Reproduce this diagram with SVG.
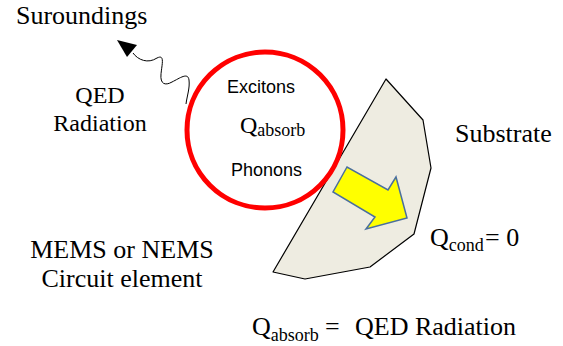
<svg xmlns="http://www.w3.org/2000/svg" width="563" height="346" viewBox="0 0 563 346">
<style>
.serif{font-family:"Liberation Serif","Times New Roman",serif;fill:#000}
.sans{font-family:"Liberation Sans",Arial,sans-serif;fill:#000;font-size:18px}
</style>
<rect width="563" height="346" fill="#fff"/>
<g id="substrate">
<polygon points="386,79 423,120 431,168 414,234 370,267 305,279 273,272" fill="#EEECE1" stroke="#000" stroke-width="1.2" stroke-linejoin="round"/>
<text class="serif" x="455" y="142" font-size="26">Substrate</text>
</g>
<g id="element">
<circle cx="265" cy="130" r="78" fill="#fff" stroke="#FF0000" stroke-width="5"/>
<text class="sans" x="227" y="93">Excitons</text>
<text class="serif" x="240" y="133" font-size="24">Q<tspan font-size="18" dy="3">absorb</tspan></text>
<text class="sans" x="231" y="176">Phonons</text>
</g>
<g id="heatflow">
<polygon points="347,167 333,192 375,217 366,229 407,218 396,177 388,190" fill="#FFFF00" stroke="#4A6F9E" stroke-width="1.5" stroke-linejoin="miter"/>
</g>
<g id="connectors">
<path d="M186,104 C187,96 190,88 189,80 C188,72 180,78 172,82 C165,86 160,84 161,74 C162,64 165,54 157,58 C148,64 138,60 133,53" fill="none" stroke="#000" stroke-width="1"/>
<polygon points="117,40 137,45 127,57" fill="#000"/>
</g>
<g id="labels">
<text class="serif" x="16" y="24" font-size="26">Suroundings</text>
<text class="serif" x="100" y="103" font-size="24" text-anchor="middle">QED</text>
<text class="serif" x="100" y="131" font-size="24" text-anchor="middle">Radiation</text>
<text class="serif" x="122" y="258" font-size="26" text-anchor="middle">MEMS or NEMS</text>
<text class="serif" x="122" y="287" font-size="26" text-anchor="middle">Circuit element</text>
<text class="serif" x="430" y="246" font-size="26">Q<tspan font-size="18" dy="5">cond</tspan><tspan dy="-5" x="485">= 0</tspan></text>
<text class="serif" x="252" y="335" font-size="26">Q<tspan font-size="18" dy="6">absorb</tspan><tspan dy="-6" x="325">=</tspan><tspan x="355">QED Radiation</tspan></text>
</g>
</svg>
